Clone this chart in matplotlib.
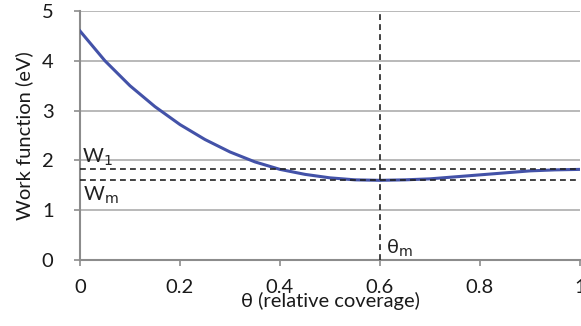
import matplotlib
matplotlib.use("Agg")
import matplotlib.pyplot as plt

theta = [0.0, 0.05, 0.1, 0.15, 0.2, 0.25, 0.3, 0.35, 0.4, 0.45, 0.5, 0.55, 0.6,
         0.65, 0.7, 0.75, 0.8, 0.85, 0.9, 0.95, 1.0]
work = [4.6, 4.0, 3.5, 3.08, 2.72, 2.42, 2.17, 1.97, 1.82, 1.72, 1.65, 1.61, 1.6,
        1.61, 1.63, 1.67, 1.71, 1.75, 1.79, 1.81, 1.82]
W1 = 1.82
Wm = 1.6
theta_m = 0.6
xticks = [0, 0.2, 0.4, 0.6, 0.8, 1]
xticklabels = ["0", "0.2", "0.4", "0.6", "0.8", "1"]
yticks = [0, 1, 2, 3, 4, 5]

FS = 14.5
plt.rcParams['font.family'] = ['Lato', 'DejaVu Sans']
fig = plt.figure(figsize=(5.81, 3.26), dpi=100)
ax = fig.add_axes([0.1377, 0.2025, 0.8605, 0.7635])
ax.set_xlim(0, 1)
ax.set_ylim(0, 5)

ax.grid(axis='y', color='#a6a6a6', linewidth=1.1)
ax.set_axisbelow(True)

dash = (0, (3.5, 2.5))
ax.plot(theta, work, color='#4352a8', linewidth=2.2, zorder=3)
ax.axhline(W1, color='#222222', linestyle=dash, linewidth=1.2, zorder=4)
ax.axhline(Wm, color='#222222', linestyle=dash, linewidth=1.2, zorder=4)
ax.axvline(theta_m, color='#222222', linestyle=dash, linewidth=1.2, zorder=4)

ax.text(0.004, 1.84, r"W$_1$", fontsize=FS, ha='left', va='bottom', color='#222222')
ax.text(0.006, 1.52, r"W$_\mathrm{m}$", fontsize=FS, ha='left', va='top', color='#222222')
ax.text(0.612, 0.02, r"θ$_\mathrm{m}$", fontsize=FS, ha='left', va='bottom', color='#222222')

for s in ['top', 'right']:
    ax.spines[s].set_visible(False)
for s in ['left', 'bottom']:
    ax.spines[s].set_color('#8c8c8c')
    ax.spines[s].set_linewidth(1.5)

ax.set_xticks(xticks)
ax.set_xticklabels(xticklabels)
ax.set_yticks(yticks)
ax.tick_params(axis='both', colors='#8c8c8c', labelcolor='#1a1a1a', labelsize=FS,
               length=4, width=1.2, direction='out')
ax.tick_params(axis='x', pad=10)
ax.tick_params(axis='y', pad=15)
ax.set_xlabel("θ (relative coverage)", fontsize=FS, color='#1a1a1a', labelpad=-3)
ax.set_ylabel("Work function (eV)", fontsize=FS, color='#1a1a1a', labelpad=6)

fig.savefig("out.png", dpi=100)
